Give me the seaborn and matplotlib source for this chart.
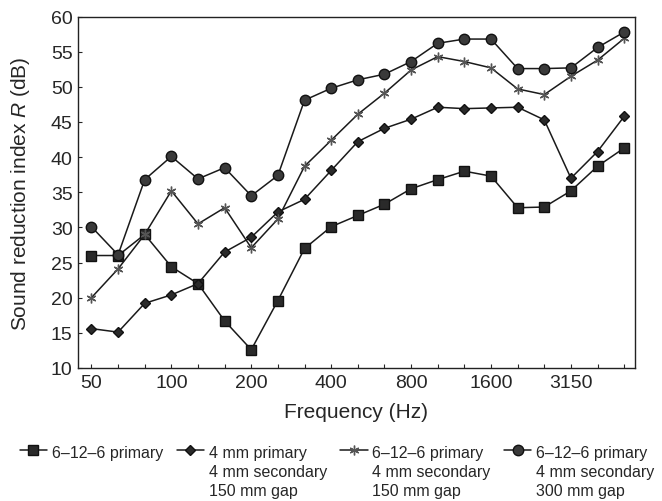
import matplotlib
matplotlib.use('Agg')
import matplotlib.pyplot as plt
import seaborn as sns
import pandas as pd

# Third-octave band centre frequencies (Hz)
freqs = [50, 63, 80, 100, 125, 160, 200, 250, 315, 400, 500, 630,
         800, 1000, 1250, 1600, 2000, 2500, 3150, 4000, 5000]
tick_labels = ['50', '100', '200', '400', '800', '1600', '3150']

# Sound reduction index R (dB)
r_single = [26.0, 26.0, 29.0, 24.4, 22.0, 16.7, 12.6, 19.6, 27.0, 30.1, 31.7,
            33.3, 35.5, 36.8, 38.0, 37.3, 32.8, 32.9, 35.2, 38.7, 41.3]
r_4mm = [15.6, 15.1, 19.2, 20.4, 22.0, 26.5, 28.6, 32.2, 34.0, 38.1, 42.2,
         44.1, 45.4, 47.1, 46.9, 47.0, 47.1, 45.3, 37.0, 40.8, 45.8]
r_150 = [20.0, 24.1, 29.0, 35.2, 30.5, 32.8, 27.1, 31.2, 38.7, 42.4, 46.1,
         49.1, 52.4, 54.3, 53.6, 52.7, 49.7, 48.9, 51.5, 53.8, 56.9]
r_300 = [30.1, 26.1, 36.8, 40.1, 36.9, 38.5, 34.5, 37.4, 48.1, 49.8, 51.0,
         51.8, 53.6, 56.2, 56.8, 56.8, 52.6, 52.6, 52.7, 55.6, 57.8]

labels = ['6\u201312\u20136 primary',
          '4 mm primary\n4 mm secondary\n150 mm gap',
          '6\u201312\u20136 primary\n4 mm secondary\n150 mm gap',
          '6\u201312\u20136 primary\n4 mm secondary\n300 mm gap']

rows = []
for lab, vals in zip(labels, [r_single, r_4mm, r_150, r_300]):
    for i, v in enumerate(vals):
        rows.append({'band': i, 'R': v, 'config': lab})
df = pd.DataFrame(rows)

sns.set_style('ticks')
plt.rcParams['font.family'] = ['Liberation Sans', 'DejaVu Sans']
plt.rcParams['mathtext.fontset'] = 'custom'
plt.rcParams['mathtext.rm'] = 'Liberation Sans'
plt.rcParams['mathtext.it'] = 'Liberation Sans:italic'

fig = plt.figure(figsize=(6.62, 5.02), dpi=100)
ax = fig.add_axes([0.118, 0.265, 0.841, 0.7])

markers = {labels[0]: 's', labels[1]: 'D', labels[2]: (6, 2, 0), labels[3]: 'o'}
sizes = {labels[0]: 6.5, labels[1]: 4.8, labels[2]: 7, labels[3]: 7.5}
faces = {labels[0]: '#2a2a2a', labels[1]: '#2a2a2a', labels[2]: '#555555', labels[3]: '#3a3a3a'}

for lab in labels:
    sub = df[df['config'] == lab]
    sns.lineplot(data=sub, x='band', y='R', ax=ax, color='#1a1a1a', lw=1.1,
                 marker=markers[lab], markersize=sizes[lab],
                 markerfacecolor=faces[lab], markeredgecolor=faces[lab] if lab == labels[2] else '#111111',
                 markeredgewidth=1.0, label=lab, legend=False)

ax.set_xlim(-0.5, 20.4)
ax.set_ylim(10, 60)
ax.set_xticks(range(0, 21, 3))
ax.set_xticklabels(tick_labels)
ax.set_xticks(range(21), minor=True)
ax.set_yticks(range(10, 61, 5))
ax.tick_params(axis='both', which='both', direction='in', length=3,
               width=0.8, labelsize=14, pad=4)
for s in ax.spines.values():
    s.set_linewidth(1.0)
    s.set_color('#222222')

ax.set_xlabel('Frequency (Hz)', fontsize=15, labelpad=8)
ax.set_ylabel('Sound reduction index $R$ (dB)', fontsize=15)
ax.yaxis.set_label_coords(-0.082, 0.5)

handles = ax.get_lines()
leg = fig.legend(handles, labels, loc='upper left', bbox_to_anchor=(0.03, 0.112),
                 ncol=4, frameon=False, fontsize=11.5, handlelength=1.7,
                 handletextpad=0.3, columnspacing=0.85, labelspacing=0.2,
                 borderaxespad=0, borderpad=0)
for t in leg.get_texts():
    t.set_linespacing(1.35)
# align marker with the first line of each multi-line label
leg._legend_handle_box.align = 'top'
for col in leg._legend_handle_box.get_children():
    col.align = 'left'
    for item in col.get_children():
        item.align = 'top'

fig.savefig('out.png', dpi=100)
